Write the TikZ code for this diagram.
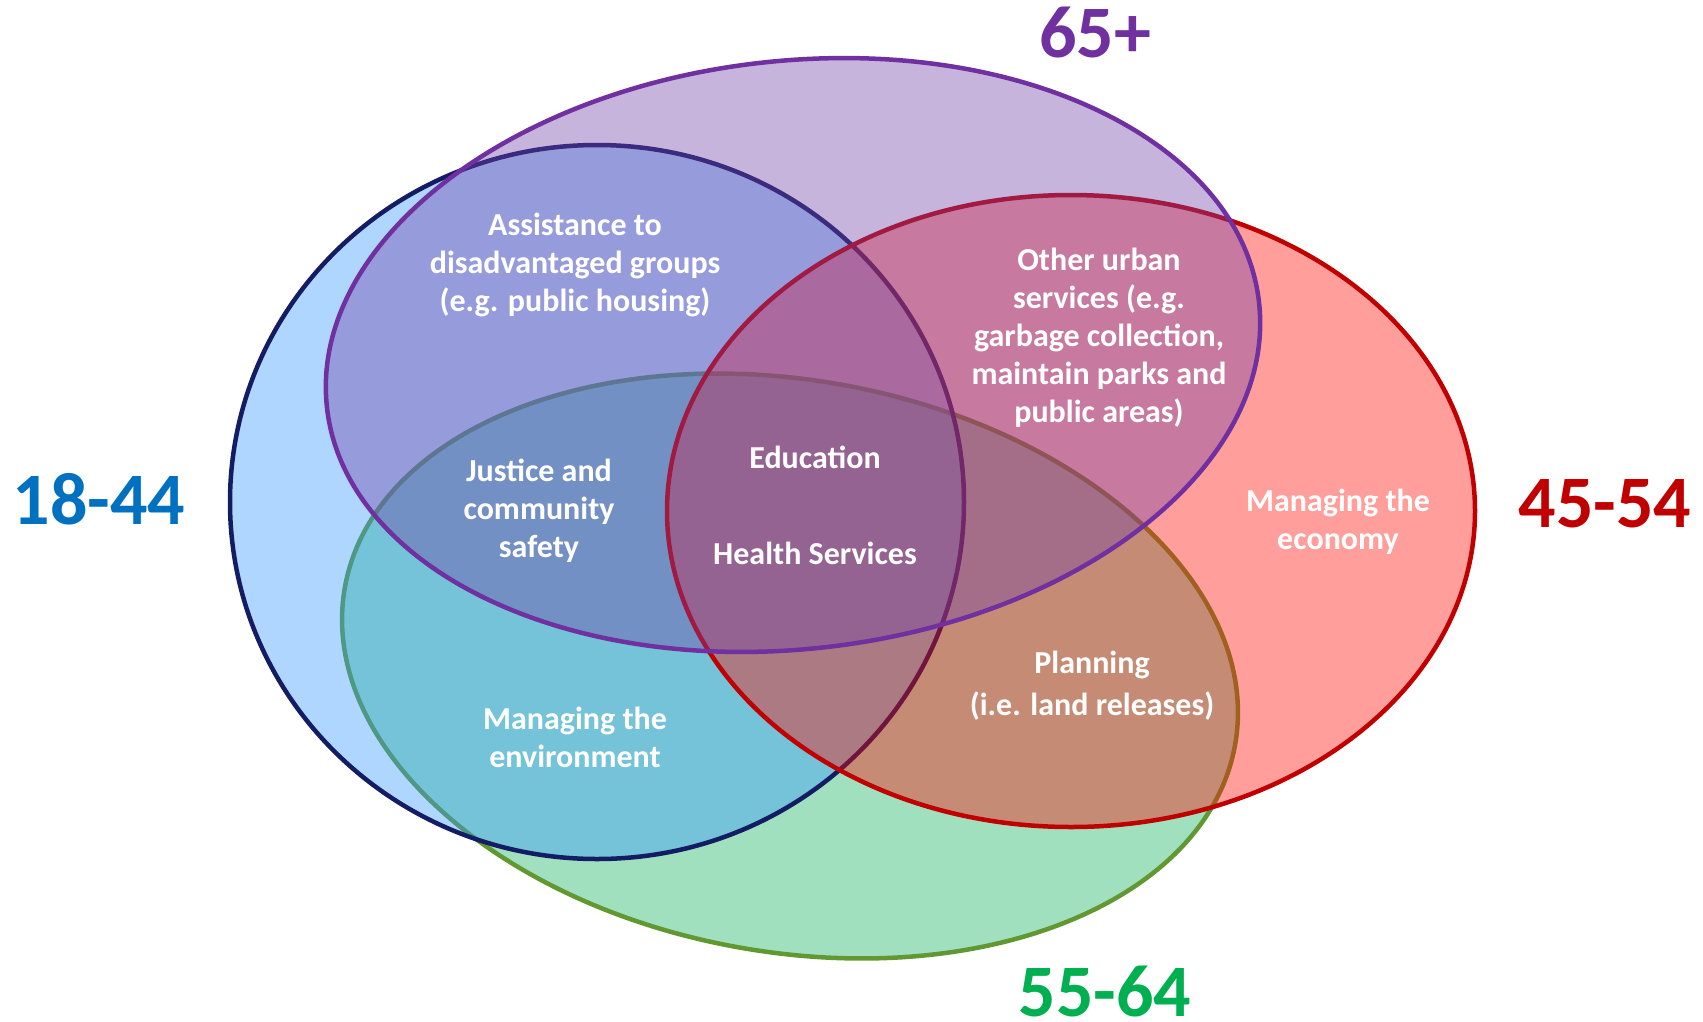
\documentclass[tikz,border=0pt]{standalone}
\usepackage{fontspec}
\setmainfont{Carlito}
\usetikzlibrary{shapes.geometric}
\definecolor{bluefill}{RGB}{52,152,255}
\definecolor{blueline}{RGB}{20,28,100}
\definecolor{purplefill}{RGB}{115,67,167}
\definecolor{purpleline}{RGB}{112,48,160}
\definecolor{redfill}{RGB}{255,12,5}
\definecolor{redline}{RGB}{192,0,0}
\definecolor{greenfill}{RGB}{17,178,92}
\definecolor{greenline}{RGB}{98,152,50}
\definecolor{c1844}{RGB}{0,112,192}
\definecolor{c4554}{RGB}{192,0,0}
\definecolor{c65}{RGB}{112,48,160}
\definecolor{c5564}{RGB}{0,176,80}
\begin{document}
\begin{tikzpicture}[x=1pt,y=-1pt,
  venn/.style={ellipse, inner sep=0pt, outer sep=0pt, line width=4.5pt, fill opacity=0.4, draw opacity=1},
  lbl/.style={text=white, font=\bfseries\fontsize{32}{38}\selectfont, align=center},
  age/.style={font=\bfseries\fontsize{74}{80}\selectfont}]
\useasboundingbox (0,0) rectangle (1703,1021);
\node[venn, draw=greenline, fill=greenfill, minimum width=904pt, minimum height=572pt, rotate=-10] (g) at (790,666) {};
\node[venn, draw=blueline, fill=bluefill, minimum width=734pt, minimum height=714pt] (b) at (597,502) {};
\node[venn, draw=redline, fill=redfill, minimum width=808pt, minimum height=632pt] (r) at (1071,511) {};
\node[venn, draw=purpleline, fill=purplefill, minimum width=938pt, minimum height=588pt, rotate=6.5] (p) at (793,355) {};
\node[age, text=c1844] (l1) at (99,499) {18-44};
\node[age, text=c4554] (l2) at (1605,504) {45-54};
\node[age, text=c65] (l3) at (1095,33) {65+};
\node[age, text=c5564] (l4) at (1105,991) {55-64};
\node[lbl] (t1) at (575,265) {Assistance to\\disadvantaged groups\\(e.g. public housing)};
\node[lbl] (t2) at (1099,338) {Other urban\\services (e.g.\\garbage collection,\\maintain parks and\\public areas)};
\node[lbl] (t3) at (539,511) {Justice and\\community\\safety};
\node[lbl] (t4) at (815,457) {Education};
\node[lbl] (t5) at (815,553) {Health Services};
\node[lbl] (t6) at (575,737) {Managing the\\environment};
\node[lbl, font=\bfseries\fontsize{32}{42}\selectfont] (t7) at (1092,686) {Planning\\(i.e. land releases)};
\node[lbl] (t8) at (1338,522) {Managing the\\economy};
\end{tikzpicture}
\end{document}
